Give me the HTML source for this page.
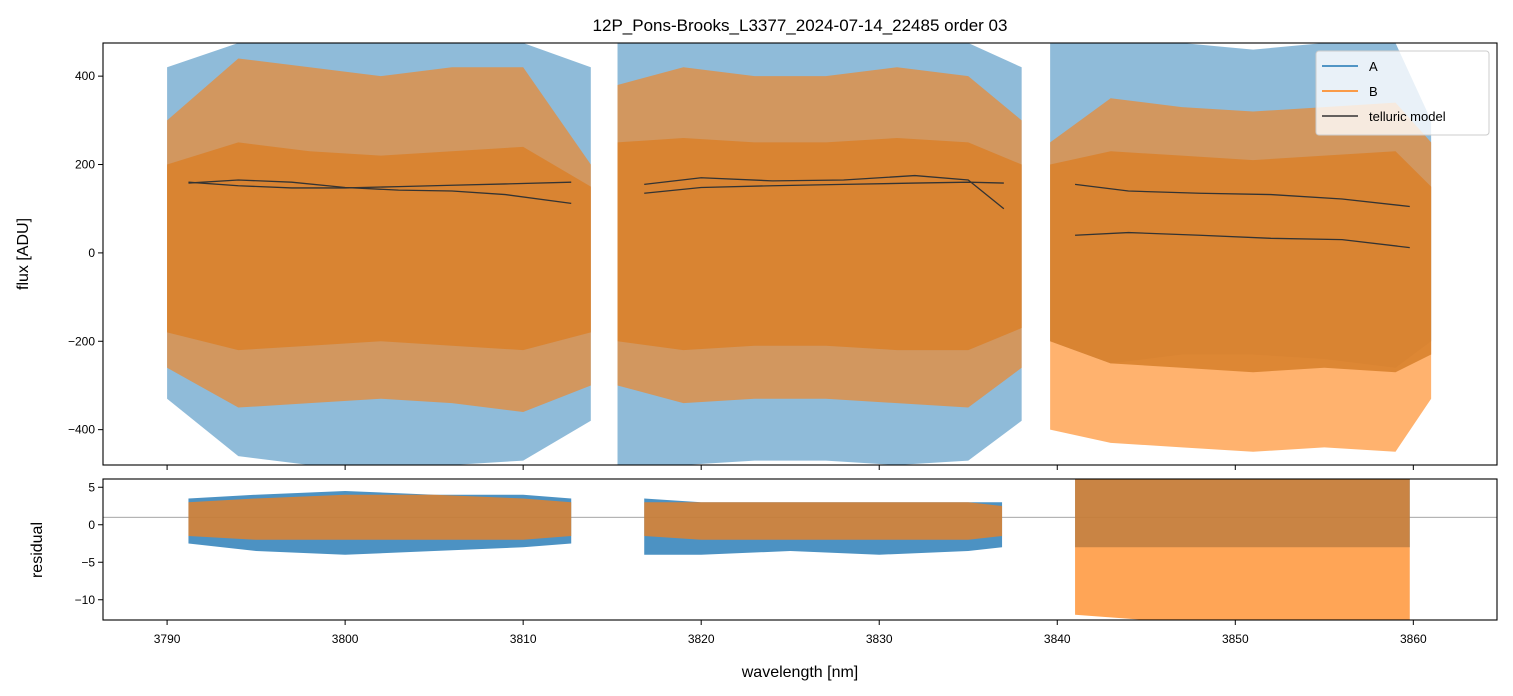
<!DOCTYPE html>
<html><head><meta charset="utf-8">
<style>
body{margin:0;background:#fff;}
svg{display:block;font-family:"Liberation Sans","DejaVu Sans",sans-serif;}
</style></head>
<body>
<svg id="chart" width="1513" height="696" viewBox="0 0 1513 696">
<text x="800" y="31" text-anchor="middle" font-size="17">12P_Pons-Brooks_L3377_2024-07-14_22485  order 03</text>
<g id="topPanel"></g>
<g id="botPanel"></g>
<text x="28" y="254" text-anchor="middle" font-size="16" transform="rotate(-90 28 254)">flux [ADU]</text>
<text x="42" y="550" text-anchor="middle" font-size="16" transform="rotate(-90 42 550)">residual</text>
<text x="800" y="677" text-anchor="middle" font-size="16">wavelength [nm]</text>
</svg>
<script>
// ---- data ----
const xTicks = [3790,3800,3810,3820,3830,3840,3850,3860];
const yTicksTop = [400,200,0,-200,-400];
const yTicksBot = [5,0,-5,-10];
const seg1Wl = [3790,3794,3798,3802,3806,3810,3813.8];
const seg1AHi = [420,475,475,475,475,475,420];
const seg1ALo = [-330,-460,-480,-480,-480,-470,-380];
const seg1BHi = [300,440,420,400,420,420,200];
const seg1BLo = [-260,-350,-340,-330,-340,-360,-300];
const seg1CHi = [200,250,230,220,230,240,150];
const seg1CLo = [-180,-220,-210,-200,-210,-220,-180];
const seg2Wl = [3815.3,3819,3823,3827,3831,3835,3838];
const seg2AHi = [475,475,475,475,475,475,420];
const seg2ALo = [-480,-480,-470,-470,-480,-470,-380];
const seg2BHi = [380,420,400,400,420,400,300];
const seg2BLo = [-300,-340,-330,-330,-340,-350,-260];
const seg2CHi = [250,260,250,250,260,250,200];
const seg2CLo = [-200,-220,-210,-210,-220,-220,-170];
const seg3Wl = [3839.6,3843,3847,3851,3855,3859,3861];
const seg3AHi = [475,475,475,460,475,475,300];
const seg3ALo = [-200,-250,-230,-230,-240,-260,-200];
const seg3BHi = [250,350,330,320,330,340,250];
const seg3BLo = [-400,-430,-440,-450,-440,-450,-330];
const seg3CHi = [200,230,220,210,220,230,150];
const seg3CLo = [-200,-250,-260,-270,-260,-270,-230];
const tel1Wl = [3791.2,3794,3797,3800,3803,3806,3809,3812.7];
const tel1a = [158,165,160,148,142,140,132,112];
const tel1b = [160,152,147,147,150,153,156,160];
const tel2Wl = [3816.8,3820,3824,3828,3832,3835,3837];
const tel2a = [155,170,163,165,175,165,100];
const tel2b = [135,148,152,155,158,160,158];
const tel3Wl = [3841,3844,3848,3852,3856,3859.8];
const tel3a = [155,140,135,132,122,105];
const tel3b = [40,46,40,33,30,12];
const res1Wl = [3791.2,3795,3800,3805,3810,3812.7];
const res1AHi = [3.5,4,4.5,4,4,3.5];
const res1ALo = [-2.5,-3.5,-4,-3.5,-3,-2.5];
const res1BHi = [3,3.5,4,4,3.5,3];
const res1BLo = [-1.5,-2,-2,-2,-2,-1.5];
const res2Wl = [3816.8,3820,3825,3830,3835,3836.9];
const res2AHi = [3.5,3,3,3,3,3];
const res2ALo = [-4,-4,-3.5,-4,-3.5,-3];
const res2BHi = [3,3,3,3,3,2.5];
const res2BLo = [-1.5,-2,-2,-2,-2,-1.5];
const res3Wl = [3841,3845,3850,3855,3859.8];
const res3AHi = [6.1,6.1,6.1,6.1,6.1];
const res3ALo = [-3,-3,-3,-3,-3];
const res3BHi = [6.1,6.1,6.1,6.1,6.1];
const res3BLo = [-12,-12.7,-12.7,-12.7,-12.7];

// ---- axes ----
const L=103,R=1497,T1=43,B1=465,T2=479,B2=620;
const xmin=3786.4,xmax=3864.7;
const x=w=>L+(w-xmin)/(xmax-xmin)*(R-L);
const y1=v=>T1+(475-v)/(475+480)*(B1-T1);
const y2=v=>T2+(6.1-v)/(6.1+12.7)*(B2-T2);
const NS="http://www.w3.org/2000/svg";
function mk(tag,attrs,parent){const e=document.createElementNS(NS,tag);for(const k in attrs)e.setAttribute(k,attrs[k]);parent.appendChild(e);return e;}
const gTop=document.getElementById('topPanel'),gBot=document.getElementById('botPanel');
const cp1=mk('clipPath',{id:'c1'},gTop);mk('rect',{x:L,y:T1,width:R-L,height:B1-T1},cp1);
const cp2=mk('clipPath',{id:'c2'},gBot);mk('rect',{x:L,y:T2,width:R-L,height:B2-T2},cp2);
const g1=mk('g',{'clip-path':'url(#c1)'},gTop),g2=mk('g',{'clip-path':'url(#c2)'},gBot);

function band(g,wl,hi,lo,yf,fill,op,name){
  let pts=wl.map((w,i)=>x(w)+','+yf(hi[i]));
  pts=pts.concat(wl.map((w,i)=>x(w)+','+yf(lo[i])).reverse());
  const p=mk('polygon',{points:pts.join(' '),fill:fill,'fill-opacity':op},g);
  
  
}
function line(g,wl,v,yf,stroke,w,name){
  const p=mk('polyline',{points:wl.map((q,i)=>x(q)+','+yf(v[i])).join(' '),fill:'none',stroke:stroke,'stroke-width':w},g);
  
  
}
const segs=[[seg1Wl,seg1AHi,seg1ALo,seg1BHi,seg1BLo,seg1CHi,seg1CLo],[seg2Wl,seg2AHi,seg2ALo,seg2BHi,seg2BLo,seg2CHi,seg2CLo],[seg3Wl,seg3AHi,seg3ALo,seg3BHi,seg3BLo,seg3CHi,seg3CLo]];
segs.forEach((s,i)=>{
  band(g1,s[0],s[1],s[2],y1,'#1f77b4',0.5,'flux-a-seg'+(i+1));
  band(g1,s[0],s[3],s[4],y1,'#ff7f0e',0.6,'flux-b-seg'+(i+1));
  band(g1,s[0],s[5],s[6],y1,'#d9822e',0.9,'flux-core-seg'+(i+1));
});
[[tel1Wl,tel1a,tel1b],[tel2Wl,tel2a,tel2b],[tel3Wl,tel3a,tel3b]].forEach((t,i)=>{
  line(g1,t[0],t[1],y1,'#333',1.3,'telluric-model-a-seg'+(i+1));
  line(g1,t[0],t[2],y1,'#333',1.3,'telluric-model-b-seg'+(i+1));
});
const refl=mk('line',{x1:L,x2:R,y1:y2(1),y2:y2(1),stroke:'#888','stroke-width':0.8},g2);


[[res1Wl,res1AHi,res1ALo,res1BHi,res1BLo],[res2Wl,res2AHi,res2ALo,res2BHi,res2BLo],[res3Wl,res3AHi,res3ALo,res3BHi,res3BLo]].forEach((s,i)=>{
  band(g2,s[0],s[1],s[2],y2,'#1f77b4',0.8,'residual-a-seg'+(i+1));
  band(g2,s[0],s[3],s[4],y2,'#ff7f0e',0.7,'residual-b-seg'+(i+1));
});
[[T1,B1,gTop],[T2,B2,gBot]].forEach(([t,b,g],k)=>{
  const r=mk('rect',{x:L,y:t,width:R-L,height:b-t,fill:'none',stroke:'#000','stroke-width':1.1},g);
  
  
  xTicks.forEach(v=>{mk('line',{x1:x(v),x2:x(v),y1:b,y2:b+5,stroke:'#000'},g);});
});
xTicks.forEach(v=>{const t=mk('text',{x:x(v),y:643,'text-anchor':'middle','font-size':12},gBot);t.textContent=v;
  
  });
yTicksTop.forEach(v=>{mk('line',{x1:L-5,x2:L,y1:y1(v),y2:y1(v),stroke:'#000'},gTop);
  const t=mk('text',{x:L-8,y:y1(v)+4,'text-anchor':'end','font-size':12},gTop);t.textContent=v<0?'\u2212'+(-v):v;
  
  });
yTicksBot.forEach(v=>{mk('line',{x1:L-5,x2:L,y1:y2(v),y2:y2(v),stroke:'#000'},gBot);
  const t=mk('text',{x:L-8,y:y2(v)+4,'text-anchor':'end','font-size':12},gBot);t.textContent=v<0?'\u2212'+(-v):v;
  
  });
const lg=mk('g',{},gTop);


mk('rect',{x:1316,y:51,width:173,height:84,rx:3,fill:'#fff','fill-opacity':0.8,stroke:'#ccc'},lg);
[['A','#1f77b4'],['B','#ff7f0e'],['telluric model','#333']].forEach((e,i)=>{
  const yy=66+i*25;
  mk('line',{x1:1322,x2:1358,y1:yy,y2:yy,stroke:e[1],'stroke-width':1.5},lg);
  const t=mk('text',{x:1369,y:yy+5,'font-size':13},lg);t.textContent=e[0];
  
  
});
</script>
</body></html>
